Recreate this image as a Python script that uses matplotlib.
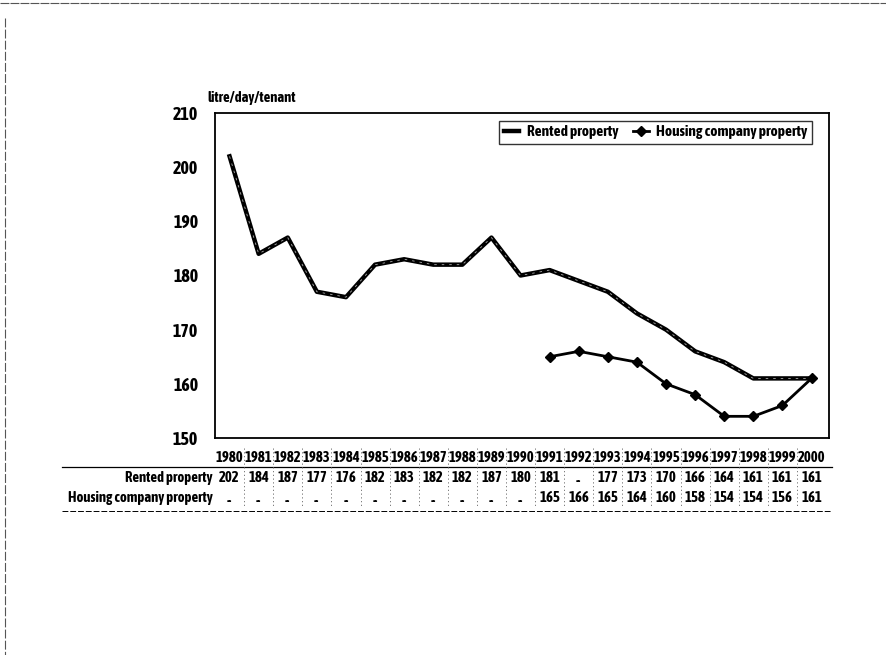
import numpy as np
import matplotlib
matplotlib.use("Agg")
import matplotlib.pyplot as plt
from matplotlib import font_manager
from matplotlib.transforms import blended_transform_factory

years = list(range(1980, 2001))
rented = [202, 184, 187, 177, 176, 182, 183, 182, 182, 187, 180,
          181, np.nan, 177, 173, 170, 166, 164, 161, 161, 161]
housing = [np.nan] * 11 + [165, 166, 165, 164, 160, 158, 154, 154, 156, 161]
row_labels = ["Rented property", "Housing company property"]
y_ticks = [150, 160, 170, 180, 190, 200, 210]

# pick a narrow font (with a bold face if possible), otherwise DejaVu Sans
fl = font_manager.fontManager.ttflist
narrow = [f for f in fl if "Narrow" in f.name or "Condensed" in f.name]
bold_narrow = sorted({f.name for f in narrow
                      if (f.weight if isinstance(f.weight, int) else 400) >= 600
                      or f.weight in ("bold", "heavy", "black", "semibold", "demibold")})
if bold_narrow:
    plt.rcParams["font.family"] = [bold_narrow[0], "DejaVu Sans"]
    tsize = 10.5
elif narrow:
    plt.rcParams["font.family"] = [sorted({f.name for f in narrow})[0], "DejaVu Sans"]
    tsize = 10.5
else:
    plt.rcParams["font.family"] = ["DejaVu Sans"]
    tsize = 8
plt.rcParams["font.weight"] = "bold"

fig = plt.figure(figsize=(8.87, 6.55), dpi=100)
ax = fig.add_axes([0.2424, 0.3313, 0.6922, 0.4962])

# Rented: connect across the missing 1992 value
yr = np.array(years)
r = np.array(rented, dtype=float)
ok = ~np.isnan(r)
ax.plot(yr[ok], r[ok], color="black", linewidth=3.2, label=row_labels[0])
ax.plot(yr[ok], r[ok], color="#aaaaaa", linewidth=0.6, linestyle=(0, (3, 6)))

h = np.array(housing, dtype=float)
ax.plot(yr, h, color="black", linewidth=2.0, marker="D", markersize=5,
        label=row_labels[1])

ax.set_xlim(1979.5, 2000.6)
ax.set_ylim(150, 210)
ax.set_yticks(y_ticks)
ax.set_xticks([])
ax.tick_params(axis="y", length=0, labelsize=tsize + 2.5, pad=12)
for s in ax.spines.values():
    s.set_linewidth(1.3)

ax.text(-0.012, 1.025, "litre/day/tenant", transform=ax.transAxes,
        fontsize=tsize, ha="left", va="bottom")

leg = ax.legend(loc="upper right", ncol=2, frameon=True, fancybox=False,
                fontsize=tsize + 0.5, handlelength=1.0, columnspacing=1.0,
                borderpad=0.3, handletextpad=0.5, bbox_to_anchor=(0.985, 1.0))
leg.get_frame().set_edgecolor("black")
leg.get_frame().set_linewidth(1.0)

# Data table under the chart
tr = blended_transform_factory(ax.transData, fig.transFigure)
y_year = 1 - 458 / 655
y_rows = [1 - 478 / 655, 1 - 498 / 655]

def fmt(v):
    return ".." if np.isnan(v) else f"{int(v)}"

for i, yv in enumerate(years):
    fig.text(yv, y_year, str(yv), transform=tr, ha="center", va="center", fontsize=tsize)
    fig.text(yv, y_rows[0], fmt(r[i]), transform=tr, ha="center", va="center", fontsize=tsize)
    fig.text(yv, y_rows[1], fmt(h[i]), transform=tr, ha="center", va="center", fontsize=tsize)

label_x = 213 / 887
for lab, yy in zip(row_labels, y_rows):
    fig.text(label_x, yy, lab, ha="right", va="center", fontsize=tsize)

# table rules
fig.add_artist(plt.Line2D([62 / 887, 832 / 887], [1 - 467 / 655] * 2,
                          color="black", linewidth=0.9))
fig.add_artist(plt.Line2D([62 / 887, 832 / 887], [1 - 511 / 655] * 2,
                          color="black", linewidth=0.7, linestyle=(0, (6, 2))))
for yv in years[:-1]:
    fig.add_artist(plt.Line2D([yv + 0.5, yv + 0.5], [1 - 448 / 655, 1 - 508 / 655],
                              transform=tr, color="#666666", linewidth=0.6,
                              linestyle=(0, (1.5, 3))))

# faint scan frame
fig.add_artist(plt.Line2D([0, 1], [1 - 3 / 655] * 2, color="#555555", linewidth=0.8,
                          linestyle=(0, (8, 1))))
fig.add_artist(plt.Line2D([5 / 887] * 2, [1 - 18 / 655, 0], color="#555555",
                          linewidth=0.8, linestyle=(0, (8, 2))))

plt.savefig("out.png", dpi=100)
